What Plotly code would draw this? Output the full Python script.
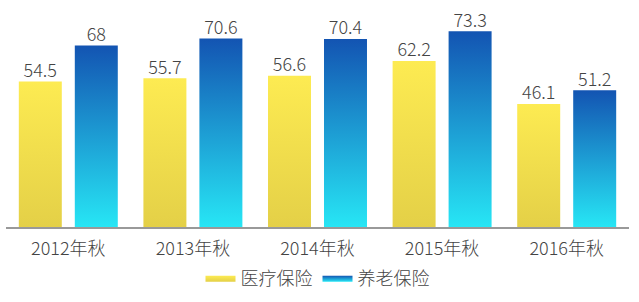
import plotly.graph_objects as go

categories = ["2012年秋", "2013年秋", "2014年秋", "2015年秋", "2016年秋"]
medical = [54.5, 55.7, 56.6, 62.2, 46.1]
pension = [68, 70.6, 70.4, 73.3, 51.2]
series_names = ["医疗保险", "养老保险"]

FONT = "Noto Sans CJK SC"
TEXT_COLOR = "#444444"
BAR_W = 0.345
OFFSET = 0.2247

styles = [
    dict(bottom="#E4D047", top="#FDEB52"),
    dict(bottom="#27E6F5", top="#1354B2"),
]

fig = go.Figure()

for s_idx, (name, values) in enumerate(zip(series_names, [medical, pension])):
    off = -OFFSET if s_idx == 0 else OFFSET
    st = styles[s_idx]
    for i, v in enumerate(values):
        xc = i + off
        fig.add_trace(go.Scatter(
            x=[xc - BAR_W / 2, xc + BAR_W / 2, xc + BAR_W / 2, xc - BAR_W / 2, xc - BAR_W / 2],
            y=[0, 0, v, v, 0],
            mode="lines",
            fill="toself",
            line=dict(width=0),
            fillgradient=dict(type="vertical", start=0, stop=v,
                              colorscale=[[0, st["bottom"]], [1, st["top"]]]),
            name=name,
            legendgroup=name,
            showlegend=(i == 0),
            hoverinfo="skip",
        ))
    fig.add_trace(go.Scatter(
        x=[i + off for i in range(len(values))],
        y=values,
        mode="text",
        text=[f"{v:g}" for v in values],
        textposition="top center",
        textfont=dict(family=FONT, size=18, color=TEXT_COLOR, weight=300),
        showlegend=False,
        hoverinfo="skip",
    ))

fig.update_layout(
    width=639, height=302,
    margin=dict(l=6, r=10, t=10, b=71),
    paper_bgcolor="white", plot_bgcolor="white",
    font=dict(family=FONT, size=18, color=TEXT_COLOR, weight=300),
    xaxis=dict(
        range=[-0.5, 4.5],
        tickmode="array", tickvals=list(range(len(categories))), ticktext=categories,
        showgrid=False, zeroline=False,
        showline=True, linecolor="#999999", linewidth=1.5,
        ticks="", ticklabelstandoff=5,
        tickfont=dict(family=FONT, size=18, color=TEXT_COLOR, weight=300),
    ),
    yaxis=dict(range=[0, 81.25], visible=False, showgrid=False, zeroline=False),
    legend=dict(
        orientation="h", x=0.5, xanchor="center", y=-0.235, yanchor="middle",
        font=dict(family=FONT, size=18, color=TEXT_COLOR, weight=300),
        itemwidth=30,
    ),
    showlegend=True,
)

fig.write_html("out.html")
